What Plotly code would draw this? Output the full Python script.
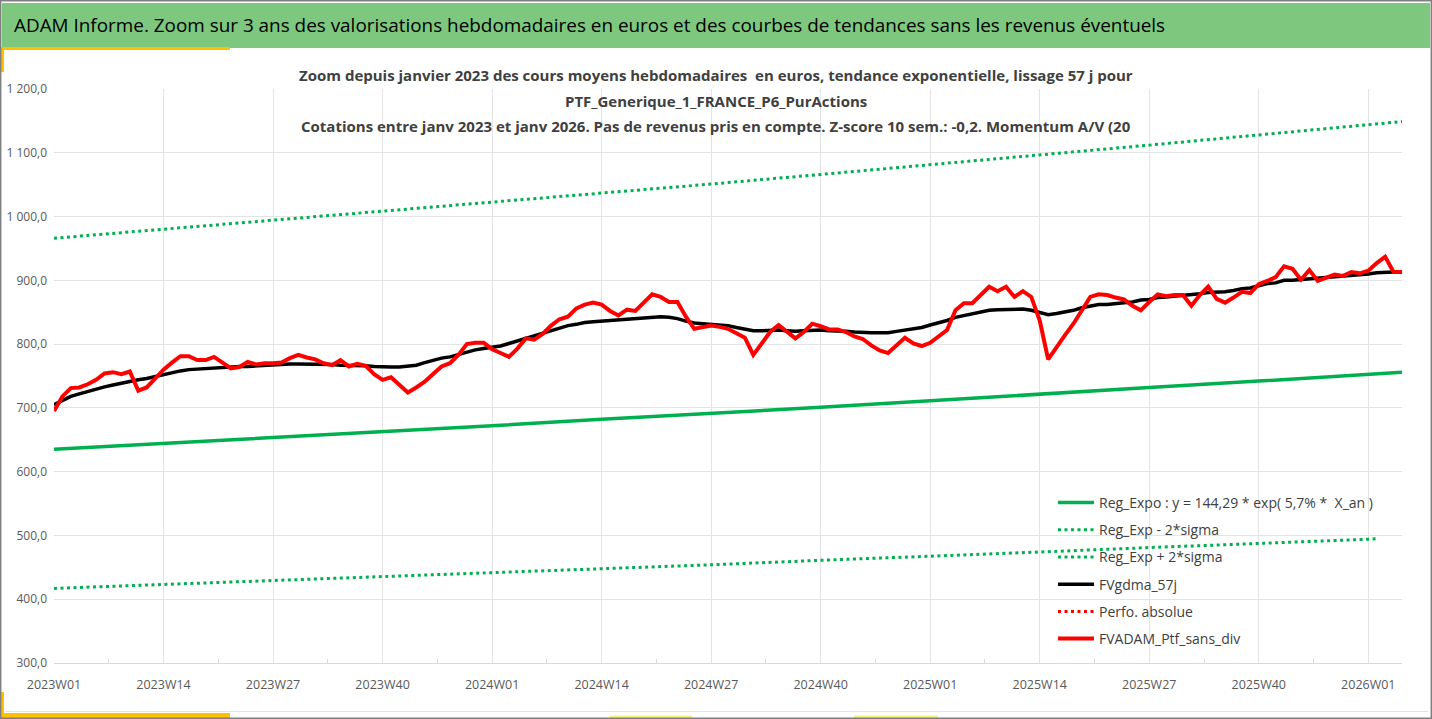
import plotly.graph_objects as go

# ---------------- data ----------------
weeks = [f"{2023 + i // 52}W{i % 52 + 1:02d}" for i in range(161)]

ptf_sans_div = [
    695, 718, 731, 732, 737, 744, 754, 756, 753, 757,
    727, 732, 746, 760, 771, 781, 781, 775, 775, 780,
    771, 762, 764, 772, 768, 770, 770, 771, 778, 783,
    779, 776, 770, 767, 775, 765, 769, 766, 753, 744,
    748, 736, 724, 732, 741, 753, 765, 770, 783, 800,
    802, 802, 792, 786, 780, 793, 809, 807, 816, 829,
    839, 843, 856, 862, 865, 862, 852, 845, 854, 852,
    866, 878, 874, 866, 866, 843, 824, 826, 829, 827,
    824, 817, 810, 783, 801, 819, 830, 819, 809, 819,
    832, 828, 823, 823, 819, 812, 808, 798, 790, 786,
    798, 810, 801, 797, 802, 812, 822, 853, 864, 864,
    878, 890, 883, 890, 874, 883, 874, 837, 776, 796,
    814, 832, 853, 874, 878, 877, 873, 870, 860, 853,
    866, 878, 875, 877, 877, 860, 877, 890, 871, 865,
    873, 882, 880, 894, 899, 905, 922, 918, 901, 916,
    899, 904, 909, 907, 913, 911, 915, 927, 937, 913,
    913,
]

gdma_57j = [
    705, 711, 718, 722, 726, 729, 733, 736, 739, 741,
    744, 746, 749, 753, 756, 758, 760, 761, 762, 763,
    764, 764, 765, 765, 766, 767, 768, 769, 769, 769,
    769, 769, 769, 768, 767, 767, 766, 766, 765, 764,
    764, 764, 765, 767, 771, 775, 778, 780, 784, 788,
    791, 793, 795, 797, 801, 805, 809, 813, 818, 822,
    826, 829, 831, 834, 835, 836, 838, 839, 840, 841,
    842, 843, 843, 842, 840, 836, 833, 832, 831, 830,
    829, 826, 824, 821, 821, 822, 822, 821, 820, 821,
    822, 822, 821, 821, 820, 819, 818, 818, 818, 818,
    820, 822, 823, 826, 830, 833, 837, 842, 845, 848,
    850, 853, 854, 854, 854, 855, 853, 849, 846, 848,
    850, 853, 857, 859, 862, 862, 864, 865, 866, 869,
    870, 873, 874, 875, 876, 878, 879, 881, 881, 882,
    884, 887, 888, 892, 895, 896, 900, 900, 901, 903,
    903, 904, 905, 907, 908, 909, 910, 912, 913, 913,
    913,
]

# trend curves, read at the labelled weeks (and at the end of each curve)
trend_idx = [0, 13, 26, 39, 52, 65, 78, 91, 104, 117, 130, 143, 156, 160]
reg_expo = [635, 644, 653, 663, 672, 682, 691, 701, 711, 722, 732, 742, 753, 756]
reg_plus = [966, 980, 994, 1008, 1022, 1036, 1051, 1066, 1081, 1096, 1112, 1128, 1144, 1149]
low_idx = [0, 13, 26, 39, 52, 65, 78, 91, 104, 117, 130, 143, 156, 157]
reg_minus = [417, 423, 429, 435, 441, 448, 454, 461, 467, 474, 481, 487, 494, 495]

tick_idx = list(range(0, 157, 13))
tick_labels = [weeks[i] for i in tick_idx]

legend_names = [
    "Reg_Expo : y = 144,29 * exp( 5,7% *  X_an )",
    "Reg_Exp - 2*sigma",
    "Reg_Exp + 2*sigma",
    "FVgdma_57j",
    "Perfo. absolue",
    "FVADAM_Ptf_sans_div",
]

title_text = ("ADAM Informe. Zoom sur 3 ans des valorisations hebdomadaires en euros "
              "et des courbes de tendances sans les revenus éventuels")
sub_lines = [
    "Zoom depuis janvier 2023 des cours moyens hebdomadaires  en euros, tendance exponentielle, lissage 57 j pour",
    "PTF_Generique_1_FRANCE_P6_PurActions",
    "Cotations entre janv 2023 et janv 2026. Pas de revenus pris en compte. Z-score 10 sem.: -0,2. Momentum A/V (20",
]

# ---------------- layout geometry (pixels) ----------------
W, H = 1432, 719
L, R, T, B = 54, 30, 89, 56
PW, PH = W - L - R, H - T - B


def px(x):
    return (x - L) / PW


def py(y):
    return (H - B - y) / PH


GREEN = "#00B050"
RED = "#FF0000"
FONT = "Open Sans"

fig = go.Figure()
xs = list(range(len(weeks)))

fig.add_trace(go.Scatter(x=trend_idx, y=reg_expo, mode="lines", name=legend_names[0],
                         line=dict(color=GREEN, width=3.5), legendgroup="g1"))
fig.add_trace(go.Scatter(x=low_idx, y=reg_minus, mode="lines", name=legend_names[1],
                         line=dict(color=GREEN, width=3, dash="3px,3.5px"), legendgroup="g2"))
fig.add_trace(go.Scatter(x=trend_idx, y=reg_plus, mode="lines", name=legend_names[2],
                         line=dict(color=GREEN, width=3, dash="3px,3.5px"), legendgroup="g3"))
fig.add_trace(go.Scatter(x=xs, y=gdma_57j, mode="lines", name=legend_names[3],
                         line=dict(color="#000000", width=3.5), legendgroup="g4"))
fig.add_trace(go.Scatter(x=[None], y=[None], mode="lines", name=legend_names[4],
                         line=dict(color=RED, width=3, dash="3px,3.5px"), legendgroup="g5"))
fig.add_trace(go.Scatter(x=xs, y=ptf_sans_div, mode="lines", name=legend_names[5],
                         line=dict(color=RED, width=4), legendgroup="g6"))

shapes = [
    # green banner
    dict(type="rect", xref="paper", yref="paper", x0=px(2), x1=px(1430), y0=py(48), y1=py(3),
         fillcolor="#7EC77E", line=dict(width=0), layer="below"),
    # yellow accents
    dict(type="rect", xref="paper", yref="paper", x0=px(0), x1=px(230), y0=py(50), y1=py(47),
         fillcolor="#FFC000", line=dict(width=0)),
    dict(type="rect", xref="paper", yref="paper", x0=px(0), x1=px(4), y0=py(72), y1=py(47),
         fillcolor="#FFC000", line=dict(width=0)),
    dict(type="rect", xref="paper", yref="paper", x0=px(0), x1=px(230), y0=py(718), y1=py(713),
         fillcolor="#FFC000", line=dict(width=0)),
    dict(type="rect", xref="paper", yref="paper", x0=px(0), x1=px(4), y0=py(718), y1=py(692),
         fillcolor="#FFC000", line=dict(width=0)),
    dict(type="rect", xref="paper", yref="paper", x0=px(610), x1=px(692), y0=py(718), y1=py(715.5),
         fillcolor="#F7F17A", line=dict(width=0)),
    dict(type="rect", xref="paper", yref="paper", x0=px(854), x1=px(938), y0=py(718), y1=py(715.5),
         fillcolor="#F7F17A", line=dict(width=0)),
    # light chart-area bottom line
    dict(type="line", xref="paper", yref="paper", x0=px(5), x1=px(1428), y0=py(711.5), y1=py(711.5),
         line=dict(color="#E4E4E4", width=1)),
    # outer border
    dict(type="rect", xref="paper", yref="paper", x0=px(0.7), x1=px(1431.3), y0=py(718.3), y1=py(0.7),
         line=dict(color="#808080", width=1.5), fillcolor="rgba(0,0,0,0)"),
]

annotations = [
    dict(text=title_text, xref="paper", yref="paper", x=px(12), y=py(25), xanchor="left",
         yanchor="middle", showarrow=False, font=dict(family=FONT, size=18.9, color="#000000")),
]
for txt, yy in zip(sub_lines, [75, 101, 126]):
    annotations.append(dict(text=f"<b>{txt}</b>", xref="paper", yref="paper", x=px(716), y=py(yy),
                            xanchor="center", yanchor="middle", showarrow=False,
                            font=dict(family=FONT, size=15, color="#404040")))

fig.update_layout(
    width=W, height=H,
    margin=dict(l=L, r=R, t=T, b=B, autoexpand=False),
    paper_bgcolor="white", plot_bgcolor="white",
    separators=", ",
    font=dict(family=FONT, size=12, color="#595959"),
    showlegend=True,
    legend=dict(x=px(1053), y=py(487), xanchor="left", yanchor="top",
                bgcolor="rgba(0,0,0,0)", font=dict(family=FONT, size=14, color="#404040"),
                tracegroupgap=6, itemwidth=36),
    shapes=shapes,
    annotations=annotations,
)

fig.update_xaxes(range=[0, 160], tickmode="array", tickvals=tick_idx, ticktext=tick_labels,
                 showgrid=True, gridcolor="#E3E3E3", gridwidth=1, automargin=False,
                 showline=True, linecolor="#D9D9D9", linewidth=1,
                 ticks="", ticklabelstandoff=10, zeroline=False,
                 tickfont=dict(family=FONT, size=12.5, color="#595959"),
                 minor=dict(tick0=6.5, dtick=13, ticks="inside", ticklen=4, tickcolor="#D9D9D9",
                            showgrid=False))
fig.update_yaxes(range=[300, 1200], tickmode="linear", tick0=300, dtick=100, tickformat=",.1f",
                 showgrid=True, gridcolor="#E3E3E3", gridwidth=1, zeroline=False, automargin=False,
                 showline=False, ticks="", ticklabelstandoff=6,
                 tickfont=dict(family=FONT, size=12, color="#595959"))

fig.write_html("out.html",
               config={"displayModeBar": False},
               post_script="document.body.style.margin='0';document.body.style.overflow='hidden';")
